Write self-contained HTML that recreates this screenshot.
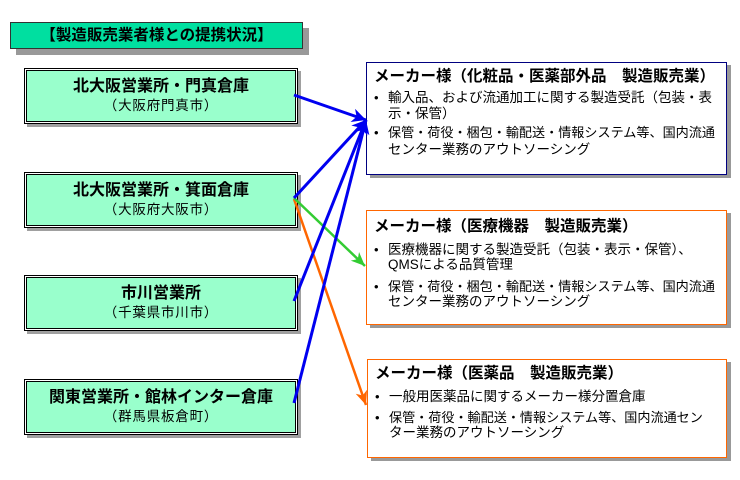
<!DOCTYPE html>
<html><head><meta charset="utf-8">
<style>
html,body{margin:0;padding:0;background:#fff;}
body{width:740px;height:480px;position:relative;overflow:hidden;font-family:"Liberation Sans","Noto Sans CJK JP",sans-serif;color:#000;}
.abs{position:absolute;}
.title{left:10px;top:22px;width:291px;height:25px;border:1px solid #333;background:#00DFA0;font-weight:bold;font-size:15.5px;line-height:25px;text-align:center;white-space:nowrap;box-shadow:6px 6px 0 #999;}
.lbox{position:absolute;left:24px;width:270px;height:52px;border:1px solid #000;background:#fff;padding:1px;box-shadow:3px 3px 0 #a0a0a0;}
.lbox .in{width:268px;height:50px;border:1px solid #000;background:#99FFCC;text-align:center;white-space:nowrap;}
.lbox .t{font-weight:bold;font-size:16px;line-height:18px;padding-top:7px;}
.lbox .s{font-size:13.5px;line-height:16px;margin-top:2px;letter-spacing:0.8px;}
.rbox{position:absolute;background:#fff;box-shadow:4px 3px 0 #999;}
.rt{position:absolute;left:7px;font-weight:bold;font-size:15.5px;line-height:18px;white-space:nowrap;}
.rl{position:absolute;left:21px;font-size:13.5px;line-height:16px;white-space:nowrap;}
.rl.n{font-size:13.1px;}
.rb{position:absolute;left:7px;font-size:13px;line-height:16px;}
</style></head><body>

<div class="abs title">【製造販売業者様との提携状況】</div>

<div class="lbox" style="top:68px;"><div class="in"><div class="t">北大阪営業所・門真倉庫</div><div class="s">（大阪府門真市）</div></div></div>
<div class="lbox" style="top:172px;"><div class="in"><div class="t">北大阪営業所・箕面倉庫</div><div class="s">（大阪府大阪市）</div></div></div>
<div class="lbox" style="top:275px;"><div class="in"><div class="t">市川営業所</div><div class="s">（千葉県市川市）</div></div></div>
<div class="lbox" style="top:379px;"><div class="in"><div class="t">関東営業所・館林インター倉庫</div><div class="s">（群馬県板倉町）</div></div></div>

<div class="rbox" style="left:366px;top:62px;width:359px;height:111px;border:1px solid #000080;">
  <div class="rt" style="top:5px;">メーカー様（化粧品・医薬部外品　製造販売業）</div>
  <div class="rb" style="top:27px;">•</div>
  <div class="rl" style="top:27px;">輸入品、および流通加工に関する製造受託（包装・表</div>
  <div class="rl" style="top:43px;">示・保管）</div>
  <div class="rb" style="top:62px;">•</div>
  <div class="rl n" style="top:62px;">保管・荷役・梱包・輸配送・情報システム等、国内流通</div>
  <div class="rl" style="top:79px;">センター業務のアウトソーシング</div>
</div>

<div class="rbox" style="left:366px;top:210px;width:359px;height:113px;border:1px solid #FF6600;">
  <div class="rt" style="top:7px;">メーカー様（医療機器　製造販売業）</div>
  <div class="rb" style="top:31px;">•</div>
  <div class="rl" style="top:31px;">医療機器に関する製造受託（包装・表示・保管）、</div>
  <div class="rl" style="top:46px;">QMSによる品質管理</div>
  <div class="rb" style="top:68px;">•</div>
  <div class="rl n" style="top:68px;">保管・荷役・梱包・輸配送・情報システム等、国内流通</div>
  <div class="rl" style="top:83px;">センター業務のアウトソーシング</div>
</div>

<div class="rbox" style="left:367px;top:359px;width:358px;height:97px;border:1px solid #FF6600;">
  <div class="rt" style="top:5px;">メーカー様（医薬品　製造販売業）</div>
  <div class="rb" style="top:29px;">•</div>
  <div class="rl" style="top:29px;">一般用医薬品に関するメーカー様分置倉庫</div>
  <div class="rb" style="top:50px;">•</div>
  <div class="rl n" style="top:50px;">保管・荷役・輸配送・情報システム等、国内流通セン</div>
  <div class="rl" style="top:65px;">ター業務のアウトソーシング</div>
</div>

<svg class="abs" style="left:0;top:0;" width="740" height="480" viewBox="0 0 740 480">
  <defs>
    <marker id="mb" markerUnits="userSpaceOnUse" markerWidth="16" markerHeight="14" refX="14" refY="7" orient="auto">
      <path d="M0,0 L14,7 L0,14 L4,7 Z" fill="#0000F0"/>
    </marker>
    <marker id="mg" markerUnits="userSpaceOnUse" markerWidth="16" markerHeight="14" refX="14" refY="7" orient="auto">
      <path d="M0,1 L14,7 L0,13 L4,7 Z" fill="#33CC33"/>
    </marker>
    <marker id="mo" markerUnits="userSpaceOnUse" markerWidth="16" markerHeight="14" refX="14" refY="7" orient="auto">
      <path d="M0,1 L14,7 L0,13 L4,7 Z" fill="#FF6600"/>
    </marker>
  </defs>
  <line x1="294" y1="199" x2="366" y2="405" stroke="#FF6600" stroke-width="2.5" marker-end="url(#mo)"/>
  <line x1="294" y1="198" x2="365" y2="266" stroke="#33CC33" stroke-width="2.5" marker-end="url(#mg)"/>
  <line x1="294" y1="403" x2="366" y2="120" stroke="#0000F0" stroke-width="3" marker-end="url(#mb)"/>
  <line x1="294" y1="301" x2="366" y2="120" stroke="#0000F0" stroke-width="3" marker-end="url(#mb)"/>
  <line x1="294" y1="198" x2="366" y2="120" stroke="#0000F0" stroke-width="3" marker-end="url(#mb)"/>
  <line x1="294" y1="95" x2="366" y2="120" stroke="#0000F0" stroke-width="3" marker-end="url(#mb)"/>
</svg>

</body></html>
